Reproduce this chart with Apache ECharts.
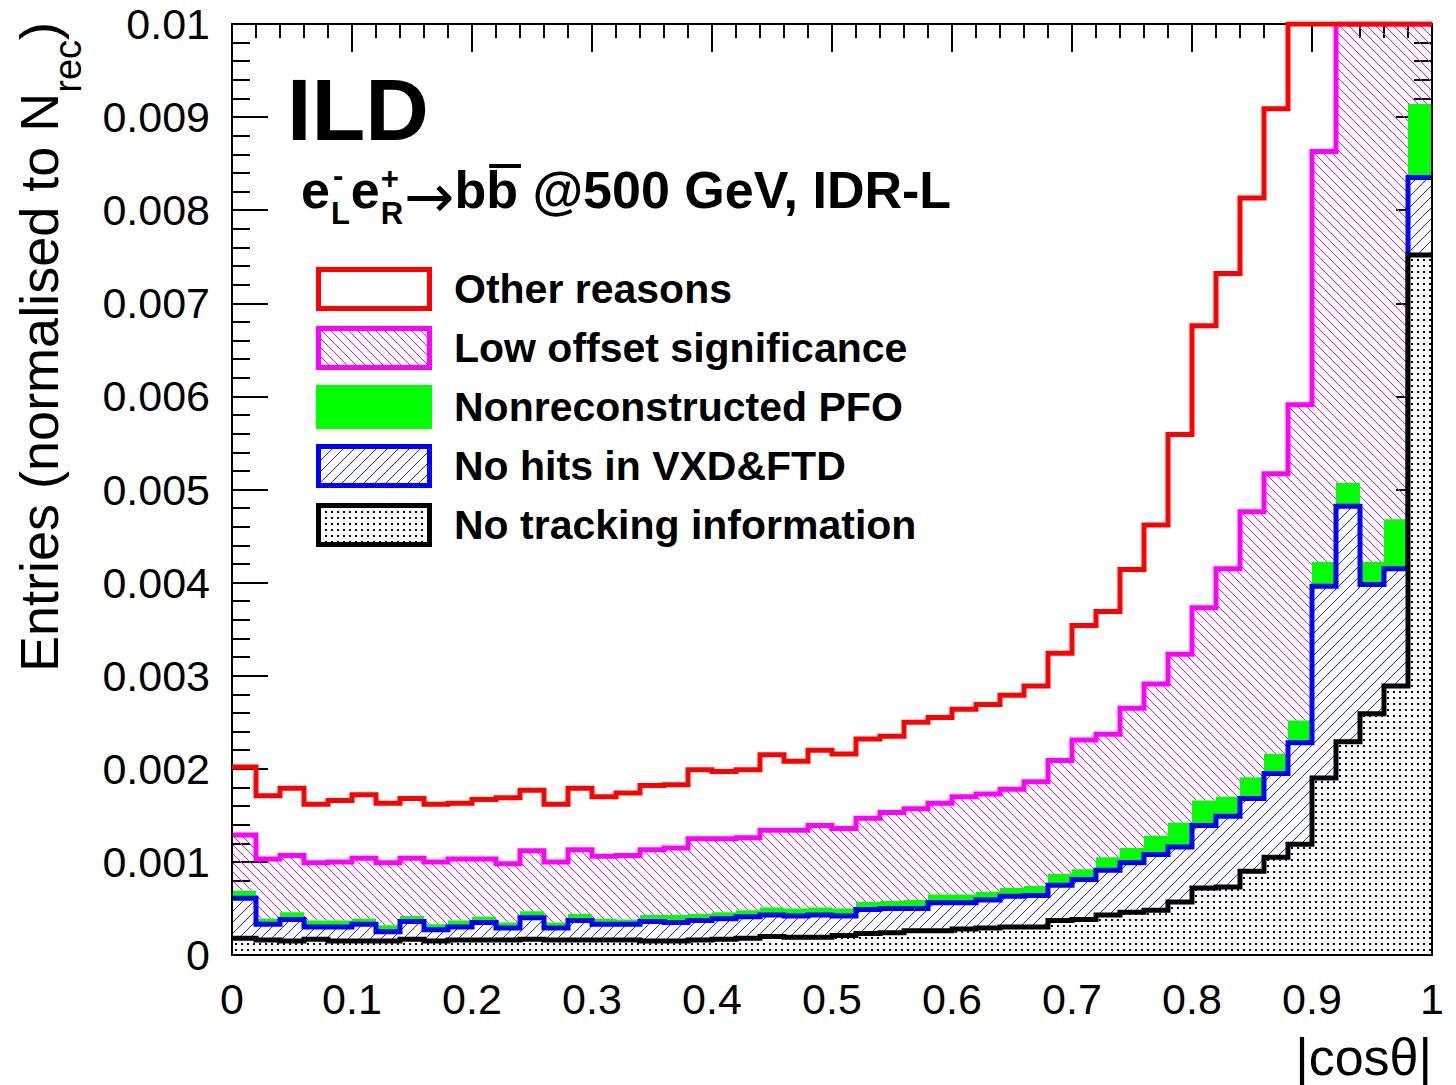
<!DOCTYPE html>
<html>
<head>
<meta charset="utf-8">
<script src="https://cdn.jsdelivr.net/npm/echarts@6/dist/echarts.min.js"></script>
<style>
html,body{margin:0;padding:0;background:#ffffff;}
#chart{width:1456px;height:1085px;}
</style>
</head>
<body>
<div id="chart"></div>
<script>
// ---------------- data ----------------
// 50 bins of |cos(theta)| from 0 to 1; each array = contribution of one stack component per bin
const BIN_COUNT = 50;
const X_MIN = 0;
const X_MAX = 1;

const noTracking = [0.00018, 0.00016, 0.00015, 0.00017, 0.00015, 0.00015, 0.00015, 0.00017, 0.00015, 0.00016,
  0.00016, 0.00016, 0.00017, 0.00016, 0.00016, 0.00016, 0.00016, 0.00015, 0.00015, 0.00016,
  0.00017, 0.00018, 0.00020, 0.00019, 0.00019, 0.00021, 0.00023, 0.00024, 0.00026, 0.00026,
  0.00028, 0.00029, 0.00030, 0.00030, 0.00037, 0.00038, 0.00043, 0.00046, 0.00048, 0.00057,
  0.00072, 0.00073, 0.00090, 0.00105, 0.00119, 0.00190, 0.00229, 0.00259, 0.00289, 0.00752];

const noHitsVxdFtd = [0.00043, 0.00017, 0.00023, 0.00013, 0.00015, 0.00018, 0.00010, 0.00019, 0.00012, 0.00014,
  0.00019, 0.00013, 0.00023, 0.00013, 0.00021, 0.00017, 0.00017, 0.00021, 0.00020, 0.00021,
  0.00022, 0.00023, 0.00023, 0.00023, 0.00024, 0.00021, 0.00026, 0.00026, 0.00024, 0.00030,
  0.00028, 0.00030, 0.00033, 0.00034, 0.00038, 0.00043, 0.00048, 0.00053, 0.00060, 0.00059,
  0.00067, 0.00076, 0.00078, 0.00090, 0.00109, 0.00206, 0.00253, 0.00139, 0.00126, 0.00083];

const nonreconstructedPfo = [0.00008, 0.00006, 0.00008, 0.00007, 0.00007, 0.00006, 0.00007, 0.00006, 0.00006, 0.00007,
  0.00006, 0.00006, 0.00007, 0.00006, 0.00007, 0.00006, 0.00005, 0.00007, 0.00008, 0.00007,
  0.00007, 0.00007, 0.00008, 0.00008, 0.00008, 0.00008, 0.00008, 0.00008, 0.00009, 0.00009,
  0.00009, 0.00009, 0.00009, 0.00010, 0.00012, 0.00011, 0.00014, 0.00016, 0.00020, 0.00026,
  0.00027, 0.00021, 0.00023, 0.00021, 0.00024, 0.00026, 0.00025, 0.00024, 0.00053, 0.00079];

const lowOffsetSignificance = [0.00060, 0.00064, 0.00061, 0.00062, 0.00063, 0.00065, 0.00067, 0.00062, 0.00067, 0.00066,
  0.00062, 0.00063, 0.00065, 0.00065, 0.00069, 0.00067, 0.00069, 0.00070, 0.00072, 0.00081,
  0.00079, 0.00078, 0.00083, 0.00084, 0.00088, 0.00086, 0.00090, 0.00095, 0.00098, 0.00098,
  0.00105, 0.00105, 0.00106, 0.00112, 0.00122, 0.00139, 0.00132, 0.00150, 0.00163, 0.00181,
  0.00207, 0.00245, 0.00285, 0.00301, 0.00339, 0.00441, 0.00493, 0.00578, 0.00532, 0.00086];

// last bins run off the top of the frame (value >= 0.01): only the visible part is kept
const otherReasons = [0.00073, 0.00068, 0.00072, 0.00063, 0.00066, 0.00068, 0.00064, 0.00064, 0.00062, 0.00060,
  0.00064, 0.00071, 0.00065, 0.00062, 0.00066, 0.00064, 0.00067, 0.00069, 0.00068, 0.00074,
  0.00072, 0.00073, 0.00081, 0.00074, 0.00081, 0.00080, 0.00085, 0.00082, 0.00093, 0.00092,
  0.00094, 0.00096, 0.00101, 0.00103, 0.00115, 0.00123, 0.00132, 0.00149, 0.00171, 0.00236,
  0.00303, 0.00317, 0.00337, 0.00392, 0.00409, 0.00137, 0, 0, 0, 0];

const legendNames = ['Other reasons', 'Low offset significance', 'Nonreconstructed PFO',
  'No hits in VXD&FTD', 'No tracking information'];

const xTickLabels = ['0', '0.1', '0.2', '0.3', '0.4', '0.5', '0.6', '0.7', '0.8', '0.9', '1'];
const yTickLabels = ['0', '0.001', '0.002', '0.003', '0.004', '0.005', '0.006', '0.007', '0.008', '0.009', '0.01'];
const Y_MAX = 0.01;

// ---------------- helpers ----------------
const FONT = '"Liberation Sans", Arial, Helvetica, sans-serif';
const ARROW_FONT = '"DejaVu Sans", sans-serif';
const binLow = i => X_MIN + i * (X_MAX - X_MIN) / BIN_COUNT;
// bin edges as categories: point i sits on the low edge of bin i, the last one on the upper edge
const binEdges = Array.from({ length: BIN_COUNT + 1 }, (_, i) => binLow(i).toFixed(2));
function toSteps(values) {
  return values.concat([values[values.length - 1]]);
}
function hatch(color, dir, bg, s) {
  const c = document.createElement('canvas');
  c.width = s; c.height = s;
  const g = c.getContext('2d');
  if (bg) { g.fillStyle = bg; g.fillRect(0, 0, s, s); }
  g.strokeStyle = color; g.lineWidth = 1;
  g.beginPath();
  for (let k = -1; k <= 1; k++) {
    if (dir === 'back') { g.moveTo(k * s, 0); g.lineTo(k * s + s, s); }
    else { g.moveTo(k * s, s); g.lineTo(k * s + s, 0); }
  }
  g.stroke();
  return { image: c, repeat: 'repeat', imageWidth: s, imageHeight: s };
}
function dots(s) {
  const c = document.createElement('canvas');
  c.width = s; c.height = s;
  const g = c.getContext('2d');
  g.fillStyle = '#ffffff'; g.fillRect(0, 0, s, s);
  g.fillStyle = '#000000'; g.fillRect(1, 1, 2, 2);
  return { image: c, repeat: 'repeat', imageWidth: s, imageHeight: s };
}
const magentaHatch = hatch('#ff00ff', 'back', null, 9);
const blueHatch = hatch('#2020ff', 'fwd', '#ffffff', 11);
const dotFill = dots(6);

const measureCtx = document.createElement('canvas').getContext('2d');
function textWidth(text, size, weight, family) {
  measureCtx.font = (weight || 'normal') + ' ' + size + 'px ' + (family || FONT);
  return measureCtx.measureText(text).width;
}

// ---------------- series ----------------
function stackSeries(name, values, line, area, z) {
  const s = {
    name: name, type: 'line', stack: 'all', stackStrategy: 'all', step: 'end', data: toSteps(values),
    xAxisIndex: 0, yAxisIndex: 0,
    symbol: 'none', showSymbol: false, smooth: false, clip: true, z: z,
    lineStyle: line, silent: true, animation: false
  };
  if (area) s.areaStyle = { color: area, opacity: 1 };
  return s;
}
const series = [
  stackSeries(legendNames[4], noTracking, { color: '#000000', width: 5, join: 'miter' }, dotFill, 6),
  stackSeries(legendNames[3], noHitsVxdFtd, { color: '#0000ff', width: 5, join: 'miter' }, blueHatch, 5),
  stackSeries(legendNames[2], nonreconstructedPfo, { color: '#00ff00', width: 0, opacity: 0 }, '#00ff00', 4),
  stackSeries(legendNames[1], lowOffsetSignificance, { color: '#ff00ff', width: 5, join: 'miter' }, magentaHatch, 3),
  stackSeries(legendNames[0], otherReasons, { color: '#ff0000', width: 5, join: 'miter' }, null, 8)
];

// ---------------- axes ----------------
function xValueAxis(pos, labels) {
  return {
    type: 'value', min: X_MIN, max: X_MAX, interval: 0.1, position: pos, gridIndex: 0,
    axisLine: { show: true, onZero: false, lineStyle: { color: '#000', width: 2 } },
    axisTick: { show: true, inside: true, length: 28, lineStyle: { color: '#000', width: 2 } },
    minorTick: { show: true, splitNumber: 5, length: 14, lineStyle: { color: '#000', width: 2 } },
    splitLine: { show: false }, minorSplitLine: { show: false },
    axisLabel: labels ? {
      show: true, margin: 22, fontSize: 43, fontFamily: FONT, color: '#000',
      formatter: v => xTickLabels[Math.round(v / 0.1)]
    } : { show: false }
  };
}
function yAxis(pos, labels) {
  return {
    type: 'value', min: 0, max: Y_MAX, interval: 0.001, position: pos, gridIndex: 0,
    axisLine: { show: true, onZero: false, lineStyle: { color: '#000', width: 2 } },
    axisTick: { show: true, inside: true, length: 36, lineStyle: { color: '#000', width: 2 } },
    minorTick: { show: true, splitNumber: 5, length: 18, lineStyle: { color: '#000', width: 2 } },
    splitLine: { show: false }, minorSplitLine: { show: false },
    axisLabel: labels ? {
      show: true, margin: 22, fontSize: 43, fontFamily: FONT, color: '#000',
      formatter: v => yTickLabels[Math.round(v / 0.001)]
    } : { show: false }
  };
}
const binAxis = {
  type: 'category', data: binEdges, boundaryGap: false, position: 'bottom', gridIndex: 0, show: false,
  axisLine: { show: false, onZero: false }, axisTick: { show: false }, axisLabel: { show: false }, splitLine: { show: false }
};

// ---------------- text / legend graphics ----------------
const graphics = [];
// y axis title (rotated), "Entries (normalised to N_rec)"
(function () {
  const M = 54, S = 38;
  const t1 = 'Entries (normalised to N', t2 = 'rec', t3 = ')';
  const w1 = textWidth(t1, M), w2 = textWidth(t2, S), w3 = textWidth(t3, M);
  const W = w1 + w2 + w3;
  const common = { fill: '#000', fontFamily: FONT, align: 'left', verticalAlign: 'middle' };
  graphics.push({
    type: 'group', x: 39, y: 22, rotation: Math.PI / 2, z: 20,
    children: [
      { type: 'text', x: -W, y: 0, style: Object.assign({ text: t1, fontSize: M, lineHeight: 44 }, common) },
      { type: 'text', x: -W + w1, y: 29, style: Object.assign({ text: t2, fontSize: S, lineHeight: 22 }, common) },
      { type: 'text', x: -W + w1 + w2, y: 0, style: Object.assign({ text: t3, fontSize: M, lineHeight: 44 }, common) }
    ]
  });
})();
// x axis title
graphics.push({
  type: 'text', x: 1432, y: 1057, z: 20,
  style: { text: '|cos\u03b8|', fontSize: 52, fontFamily: FONT, fill: '#000', align: 'right', verticalAlign: 'middle', lineHeight: 52 }
});
// ILD label
graphics.push({
  type: 'text', x: 287, y: 109, z: 20,
  style: { text: 'ILD', fontSize: 88, fontWeight: 'bold', fontFamily: FONT, fill: '#000', align: 'left', verticalAlign: 'middle', lineHeight: 66 }
});
// process label: e-_L e+_R -> b bbar @500 GeV, IDR-L
(function () {
  const M = 52, S = 31, yMain = 190, ySub = 213, ySup = 178, B = 'bold';
  const st = (text, size, lh) => ({ text: text, fontSize: size, fontWeight: B, fontFamily: FONT, fill: '#000', align: 'left', verticalAlign: 'middle', lineHeight: lh });
  let x = 301;
  graphics.push({ type: 'text', x: x, y: yMain, z: 20, style: st('e', M, 28) });
  x += textWidth('e', M, B) + 1;
  graphics.push({ type: 'text', x: x + 2, y: ySup - 3, z: 20, style: st('-', S, 10) });
  graphics.push({ type: 'text', x: x, y: ySub, z: 20, style: st('L', S, 22) });
  x += Math.max(textWidth('L', S, B), textWidth('-', S, B)) + 1;
  graphics.push({ type: 'text', x: x, y: yMain, z: 20, style: st('e', M, 28) });
  x += textWidth('e', M, B) + 1;
  graphics.push({ type: 'text', x: x, y: ySup, z: 20, style: st('+', S, 14) });
  graphics.push({ type: 'text', x: x, y: ySub, z: 20, style: st('R', S, 22) });
  x += Math.max(textWidth('R', S, B), textWidth('+', S, B)) + 1;
  // arrow + "bb @500 GeV, IDR-L" as one rich text
  const AS = 60;
  const wa = textWidth('\u2192', AS, 'normal', ARROW_FONT);
  const wb = textWidth('b', M, B);
  graphics.push({
    type: 'text', x: x, y: yMain, z: 20,
    style: {
      text: '{a|\u2192}{m|bb @500 GeV, IDR-L}', align: 'left', verticalAlign: 'middle',
      rich: {
        a: { fontSize: AS, fontFamily: ARROW_FONT, fontWeight: 'normal', fill: '#000', lineHeight: 40, padding: [12, 0, 0, 0] },
        m: { fontSize: M, fontFamily: FONT, fontWeight: B, fill: '#000', lineHeight: 40 }
      }
    }
  });
  const xb = x + wa + wb;
  graphics.push({ type: 'line', z: 20, shape: { x1: xb + 3, y1: 166, x2: xb + wb + 3, y2: 166 }, style: { stroke: '#000', lineWidth: 4 } });
})();
// legend
(function () {
  const fills = ['#ffffff', magentaHatch, '#00ff00', blueHatch, dotFill];
  const strokes = ['#ff0000', '#ff00ff', '#00ff00', '#0000ff', '#000000'];
  const y0 = 289, dy = 59;
  legendNames.forEach((name, i) => {
    const cy = y0 + i * dy;
    graphics.push({
      type: 'rect', z: 20, shape: { x: 318.5, y: cy - 19.5, width: 111, height: 39 },
      style: { fill: fills[i], stroke: strokes[i], lineWidth: 5, lineJoin: 'miter' }
    });
    graphics.push({
      type: 'text', x: 454, y: cy, z: 20,
      style: { text: name, fontSize: 41, fontWeight: 'bold', fontFamily: FONT, fill: '#000', align: 'left', verticalAlign: 'middle', lineHeight: 44 }
    });
  });
})();

// ---------------- chart ----------------
const chart = echarts.init(document.getElementById('chart'), null, { renderer: 'svg', width: 1456, height: 1085 });
chart.setOption({
  animation: false,
  backgroundColor: '#ffffff',
  grid: {
    left: 232, top: 24, width: 1200, height: 931, containLabel: false, outerBoundsMode: 'none',
    show: true, borderColor: '#000', borderWidth: 2, backgroundColor: 'transparent', z: 7
  },
  xAxis: [binAxis, xValueAxis('bottom', true), xValueAxis('top', false)],
  yAxis: [yAxis('left', true), yAxis('right', false)],
  legend: { show: false },
  tooltip: { show: false },
  series: series,
  graphic: { elements: graphics }
});
</script>
</body>
</html>
